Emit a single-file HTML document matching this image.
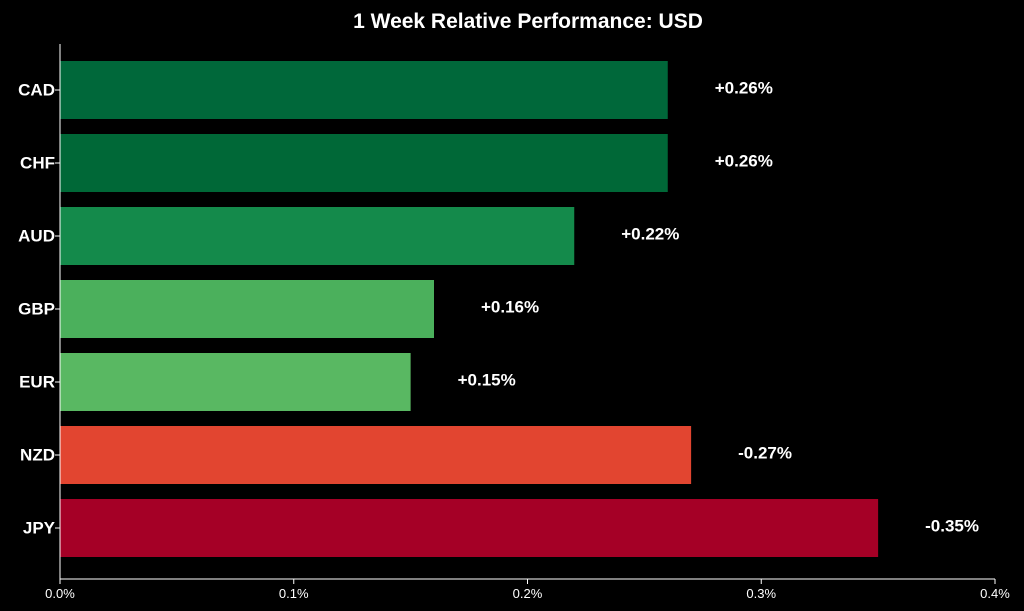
<!DOCTYPE html>
<html><head><meta charset="utf-8"><style>
body{margin:0;background:#000;}
svg{display:block;font-family:"Liberation Sans","DejaVu Sans",sans-serif;}
</style></head><body>
<svg id="chart" width="1024" height="611">
<rect width="1024" height="611" fill="#000"/>
<text x="528" y="28" fill="#fff" font-size="21" font-weight="bold" text-anchor="middle">1 Week Relative Performance: USD</text>
<g id="bars"></g>
<g id="axis"></g>
</svg>
<script>
const categories = ["CAD","CHF","AUD","GBP","EUR","NZD","JPY"];
const values = [0.26,0.26,0.22,0.16,0.15,0.27,0.35];
const labels = ["+0.26%","+0.26%","+0.22%","+0.16%","+0.15%","-0.27%","-0.35%"];
const colors = ["#00683a","#006837","#148a4b","#4bb05c","#59b862","#e24530","#a50026"];
const ticks = [0,0.1,0.2,0.3,0.4];
const tickLabels = ["0.0%","0.1%","0.2%","0.3%","0.4%"];
const NS="http://www.w3.org/2000/svg";
const x0=60,x1=995,xmax=0.4;
const xs=v=>x0+(v/xmax)*(x1-x0);
const top0=61,step=73,bh=58;
const ys=i=>top0+i*step;
const bars=document.getElementById('bars'),axis=document.getElementById('axis');
function mk(t,a,p){const e=document.createElementNS(NS,t);for(const k in a)e.setAttribute(k,a[k]);p.appendChild(e);return e;}
categories.forEach((c,i)=>{
  const r=mk('rect',{x:x0,y:ys(i),width:xs(values[i])-x0,height:bh,fill:colors[i]},bars);
  
  
  const t=mk('text',{x:xs(values[i])+47,y:ys(i)+bh/2-1,fill:'#fff','font-size':17,'font-weight':'bold','dominant-baseline':'middle'},bars);
  t.textContent=labels[i];
  
  
  const l=mk('text',{x:55,y:ys(i)+bh/2+1,fill:'#fff','font-size':17,'font-weight':'bold','text-anchor':'end','dominant-baseline':'middle'},axis);
  l.textContent=c;
  
  
  const tk=mk('line',{x1:x0-5,x2:x0,y1:ys(i)+bh/2,y2:ys(i)+bh/2,stroke:'#fff'},axis);
  
  
});
const yl=mk('line',{x1:x0,x2:x0,y1:44,y2:579,stroke:'#fff'},axis);


const xl=mk('line',{x1:x0,x2:x1,y1:579,y2:579,stroke:'#fff'},axis);


ticks.forEach((v,i)=>{
  const tk=mk('line',{x1:xs(v),x2:xs(v),y1:579,y2:584,stroke:'#fff'},axis);
  
  
  const t=mk('text',{x:xs(v),y:598,fill:'#fff','font-size':13,'text-anchor':'middle'},axis);
  t.textContent=tickLabels[i];
  
  
});
</script>
</body></html>
